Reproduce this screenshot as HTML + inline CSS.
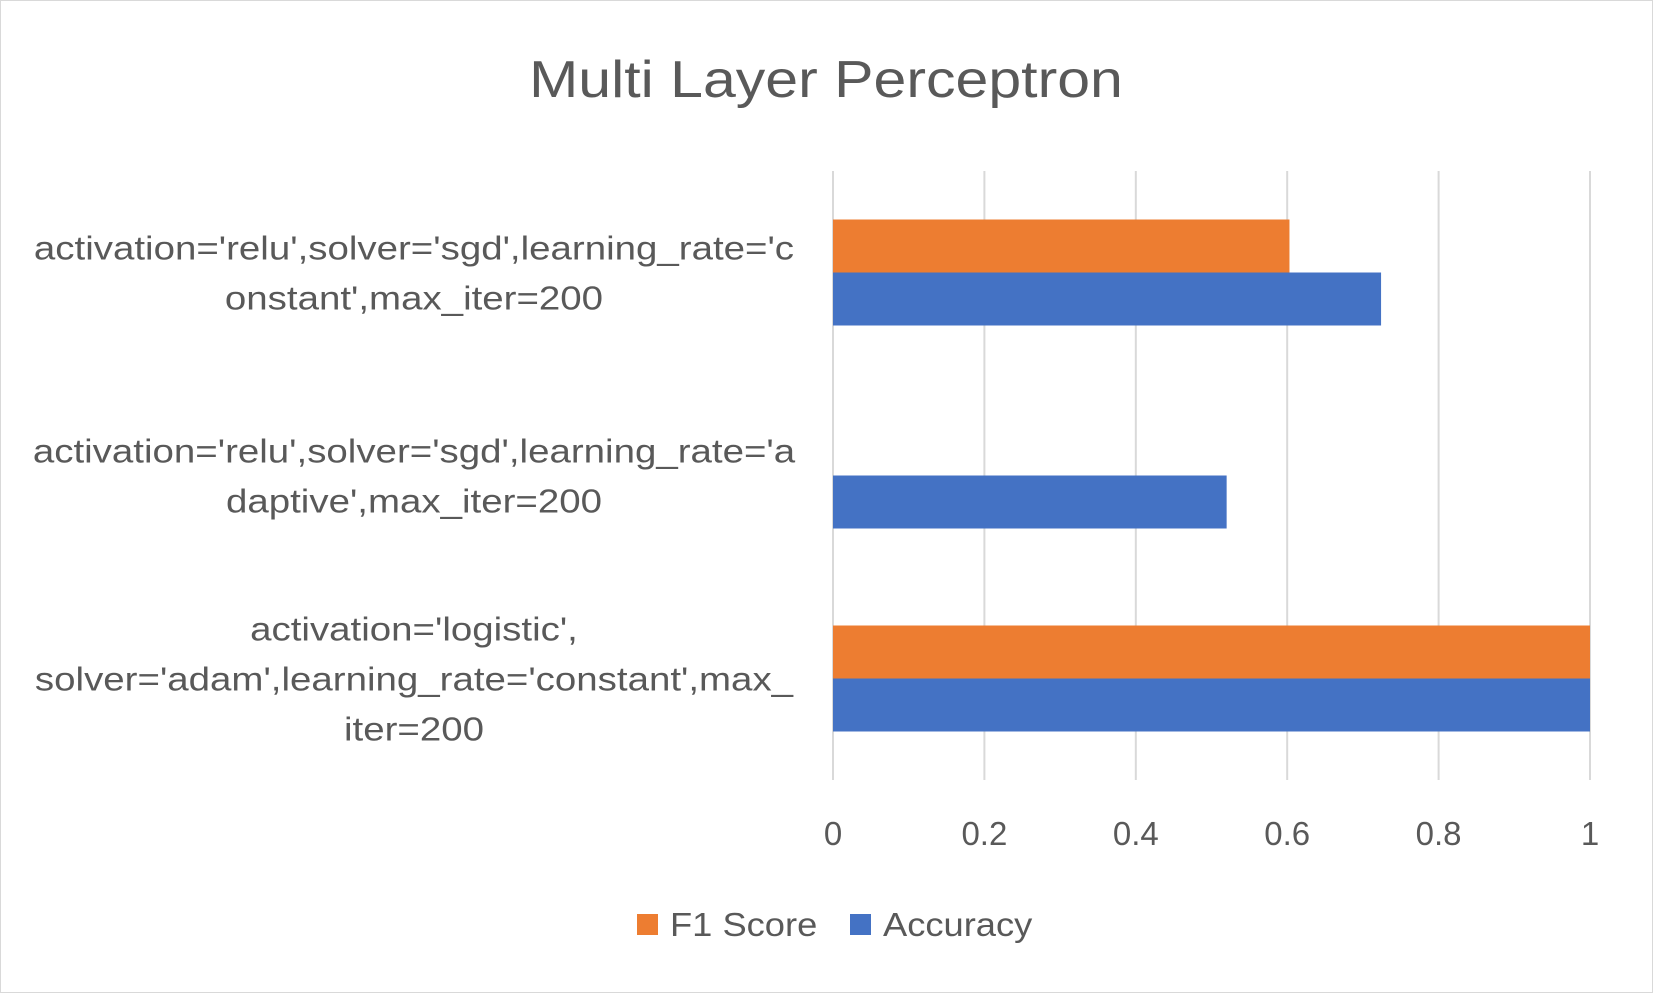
<!DOCTYPE html>
<html><head><meta charset="utf-8">
<style>
html,body{margin:0;padding:0;background:#fff;}
body{width:1653px;height:993px;overflow:hidden;font-family:"Liberation Sans",sans-serif;}
svg text{font-family:"Liberation Sans",sans-serif;fill:#595959;}
</style></head>
<body>
<svg id="chart" width="1653" height="993" xmlns="http://www.w3.org/2000/svg">
<rect x="0.5" y="0.5" width="1652" height="992" fill="#fff" stroke="#d9d9d9"/>
<text class="wide" data-f="1.135" x="826" y="97" font-size="52" text-anchor="middle">Multi Layer Perceptron</text>
<g id="grid"></g>
<g id="bars"></g>
<g id="ticks"></g>
<g id="cats"></g>
<g>
<rect x="637" y="914" width="21" height="21" fill="#ed7d31"/>
<text class="wide" data-f="1.1" x="670" y="936" font-size="33">F1 Score</text>
<rect x="850" y="914" width="21" height="21" fill="#4472c4"/>
<text class="wide" data-f="1.1" x="883" y="936" font-size="33">Accuracy</text>
</g>
</svg>
<script>
const categories=[
 ["activation='relu',solver='sgd',learning_rate='c","onstant',max_iter=200"],
 ["activation='relu',solver='sgd',learning_rate='a","daptive',max_iter=200"],
 ["activation='logistic',","solver='adam',learning_rate='constant',max_","iter=200"]
];
const f1Values=[0.603,0,1];
const accValues=[0.724,0.52,1];
const tickValues=[0,0.2,0.4,0.6,0.8,1];
const tickLabels=["0","0.2","0.4","0.6","0.8","1"];

const NS="http://www.w3.org/2000/svg";
const x0=833,x1=1590,yTop=171,yBot=780;
const xScale=v=>x0+(x1-x0)*v;
const bandH=(yBot-yTop)/categories.length;
const barH=53;
function el(tag,attrs,parent){const e=document.createElementNS(NS,tag);for(const k in attrs)e.setAttribute(k,attrs[k]);parent.appendChild(e);return e;}
const grid=document.getElementById('grid'),bars=document.getElementById('bars'),ticks=document.getElementById('ticks'),cats=document.getElementById('cats');
tickValues.forEach((v,i)=>{
 const l=el('line',{x1:xScale(v),x2:xScale(v),y1:yTop,y2:yBot,stroke:'#d9d9d9','stroke-width':2},grid);
 
 
 const t=el('text',{x:xScale(v),y:845,'font-size':33,'text-anchor':'middle'},ticks);
 t.textContent=tickLabels[i];
 
 
});
categories.forEach((lines,i)=>{
 const c=yTop+bandH*(i+0.5);
 if(f1Values[i]>0){
  const r=el('rect',{x:x0,y:c-barH,width:xScale(f1Values[i])-x0,height:barH,fill:'#ed7d31'},bars);
  
  
 }
 const r2=el('rect',{x:x0,y:c,width:xScale(accValues[i])-x0,height:barH,fill:'#4472c4'},bars);
 
 
 const lh=50,start=c-(lines.length-1)*lh/2;
 lines.forEach((s,j)=>{
  const t=el('text',{x:414,y:start+j*lh+12,'font-size':33,'text-anchor':'middle','class':'wide','data-f':'1.165'},cats);
  t.textContent=s;
  
  
 });
});
document.querySelectorAll('text.wide').forEach(t=>{
 const w=t.getComputedTextLength()*parseFloat(t.getAttribute('data-f'));
 t.setAttribute('textLength',w);
 t.setAttribute('lengthAdjust','spacingAndGlyphs');
});
</script>
</body></html>
